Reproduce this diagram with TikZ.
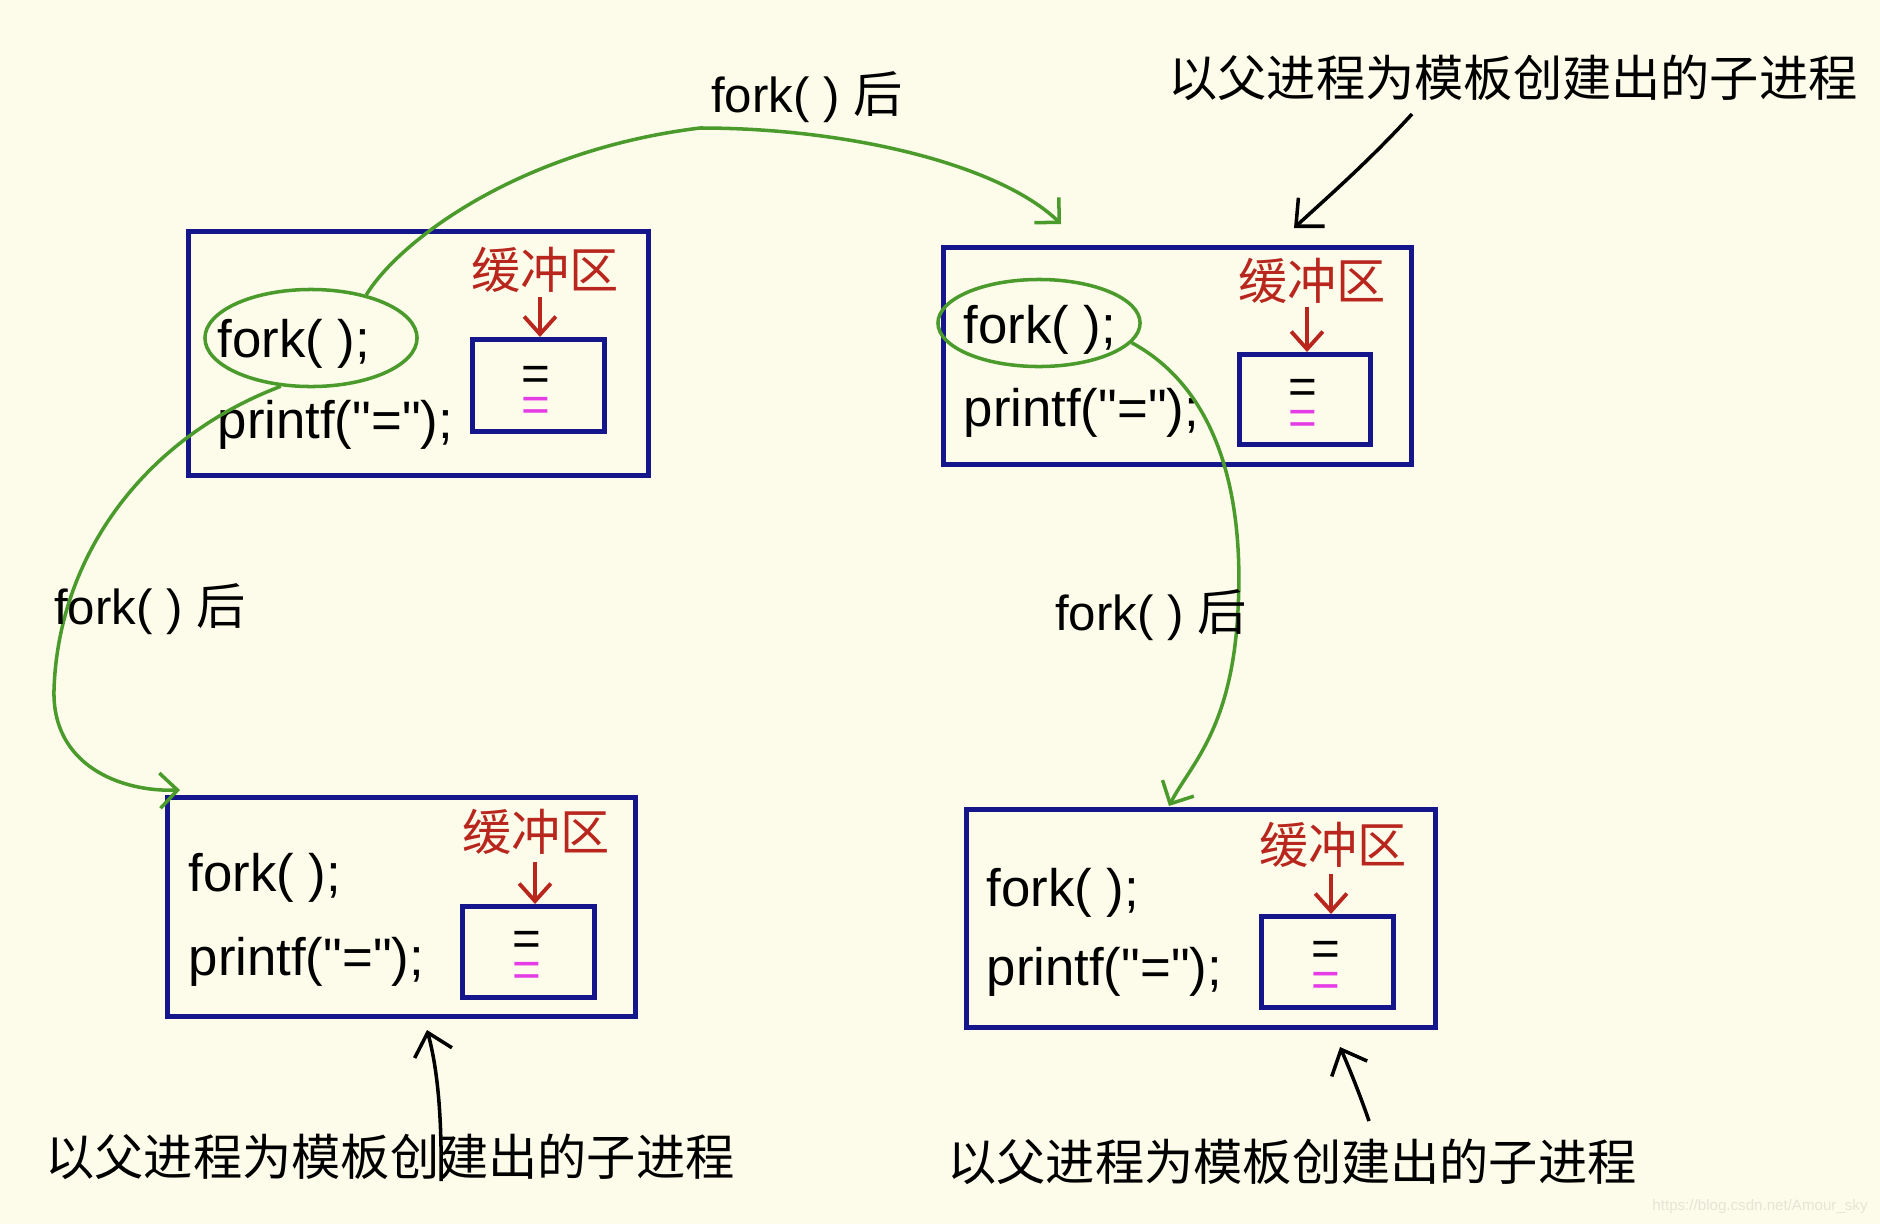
\documentclass[tikz,border=0pt]{standalone}
\usepackage{fontspec}
\setmainfont{Liberation Sans}
\newfontfamily\codefont{Liberation Sans}
\newfontfamily\cjk{Noto Sans CJK SC}
\usetikzlibrary{shapes.geometric,arrows.meta,calc}
\definecolor{bg}{HTML}{FDFCEB}
\definecolor{boxblue}{HTML}{16168C}
\definecolor{pgreen}{HTML}{4A9A2C}
\definecolor{pred}{HTML}{B8261E}
\definecolor{pmag}{HTML}{E63CE6}
\definecolor{wm}{HTML}{E6E4D6}
\begin{document}
\begin{tikzpicture}[x=0.01cm,y=-0.01cm,
  proc/.style={draw=boxblue, line width=1.3pt, rectangle, anchor=north west, inner sep=0pt},
  code/.style={anchor=west, inner sep=0pt, font=\codefont\fontsize{15}{18}\selectfont},
  buflabel/.style={text=pred, inner sep=1pt, font=\cjk\fontsize{14}{16}\selectfont},
  redarrow/.style={draw=pred, line width=1.1pt, -{Straight Barb[length=5pt,width=9pt]}},
  output/.style={inner sep=0pt, align=center, font=\codefont\fontsize{14}{8.6}\selectfont},
  circ/.style={draw=pgreen, line width=1pt, ellipse, inner sep=0pt},
  garrow/.style={draw=pgreen, line width=1pt, -{Straight Barb[length=5pt,width=10pt]}},
  forklabel/.style={inner sep=0pt, font=\codefont\fontsize{14}{16}\selectfont},
  note/.style={inner sep=0pt, font=\cjk\fontsize{14}{16}\selectfont},
  karrow/.style={draw=black, line width=1pt, -{Straight Barb[length=6pt,width=11pt]}}
]
\useasboundingbox[fill=bg] (0,0) rectangle (1880,1224);

% ---------- process boxes ----------
\node[proc, minimum width=4.60cm, minimum height=2.44cm] (b1) at (186,229) {};
\node[proc, minimum width=4.68cm, minimum height=2.17cm] (b2) at (941,245) {};
\node[proc, minimum width=4.68cm, minimum height=2.19cm] (b3) at (165,795) {};
\node[proc, minimum width=4.69cm, minimum height=2.18cm] (b4) at (964,807) {};

% ---------- buffers ----------
\node[proc, minimum width=1.32cm, minimum height=0.92cm] (u1) at (470,337) {};
\node[proc, minimum width=1.31cm, minimum height=0.90cm] (u2) at (1237,352) {};
\node[proc, minimum width=1.32cm, minimum height=0.91cm] (u3) at (460,904) {};
\node[proc, minimum width=1.32cm, minimum height=0.91cm] (u4) at (1259,914) {};

% buffer contents
\node[output] (o1) at (536,394) {=\\\textcolor{pmag}{=}};
\node[output] (o2) at (1303,407) {=\\\textcolor{pmag}{=}};
\node[output] (o3) at (527,959) {=\\\textcolor{pmag}{=}};
\node[output] (o4) at (1326,969) {=\\\textcolor{pmag}{=}};

% buffer labels
\node[buflabel] (l1) at (545,270) {缓冲区};
\node[buflabel] (l2) at (1312,281) {缓冲区};
\node[buflabel] (l3) at (536,832) {缓冲区};
\node[buflabel] (l4) at (1333,845) {缓冲区};
\coordinate (r1s) at (540,297);
\coordinate (r2s) at (1307,307);
\coordinate (r3s) at (535,862);
\coordinate (r4s) at (1331,874);
\draw[redarrow] (r1s) -- (r1s |- u1.north);
\draw[redarrow] (r2s) -- (r2s |- u2.north);
\draw[redarrow] (r3s) -- (r3s |- u3.north);
\draw[redarrow] (r4s) -- (r4s |- u4.north);

% ---------- code ----------
\node[code] (f1) at (217,344) {fork( );};
\node[code] (p1) at (217,425) {printf("=");};
\node[code] (f2) at (963,330) {fork( );};
\node[code] (p2) at (963,413) {printf("=");};
\node[code] (f3) at (188,878) {fork( );};
\node[code] (p3) at (188,962) {printf("=");};
\node[code] (f4) at (986,893) {fork( );};
\node[code] (p4) at (986,972) {printf("=");};

% ---------- green circles ----------
\node[circ, minimum width=2.12cm, minimum height=0.97cm] (e1) at (311,338) {};
\node[circ, minimum width=2.02cm, minimum height=0.87cm] (e2) at (1039,323) {};

% ---------- green arrows ----------
\coordinate (a1end) at (1061,224);
\coordinate (a2end) at (180,790);
\coordinate (a3end) at (1169,806);
\draw[garrow] (e1.38) .. controls (400,240) and (520,150) .. (700,128)
              .. controls (850,128) and (1000,165) .. (a1end);
\draw[garrow] (e1.238) .. controls (140,440) and (58,560) .. (54,690)
              .. controls (52,765) and (120,792) .. (a2end);
\draw[garrow] (e2.-12) .. controls (1210,385) and (1245,480) .. (1238,610)
              .. controls (1232,730) and (1190,765) .. (a3end);

\node[forklabel] (g1) at (807,97) {fork( ) {\cjk 后}};
\node[forklabel] (g2) at (150,609) {fork( ) {\cjk 后}};
\node[forklabel] (g3) at (1151,615) {fork( ) {\cjk 后}};

% ---------- annotations ----------
\node[note] (t1) at (1513,78) {以父进程为模板创建出的子进程};
\node[note] (t2) at (390,1157) {以父进程为模板创建出的子进程};
\node[note] (t3) at (1292,1162) {以父进程为模板创建出的子进程};
\coordinate (k1s) at (1412,114);
\coordinate (k1e) at (1294,228);
\coordinate (k2s) at (441,1181);
\coordinate (k2e) at (427,1030);
\coordinate (k3s) at (1369,1121);
\coordinate (k3e) at (1340,1047);
\draw[karrow] (k1s) .. controls (1370,160) and (1330,195) .. (k1e);
\draw[karrow] (k2s) .. controls (442,1120) and (438,1070) .. (k2e);
\draw[karrow] (k3s) .. controls (1360,1095) and (1350,1070) .. (k3e);

% watermark
\node[inner sep=0pt, text=wm, font=\codefont\fontsize{4.3}{5}\selectfont] (wmk) at (1760,1207) {https://blog.csdn.net/Amour\_sky};
\end{tikzpicture}
\end{document}
